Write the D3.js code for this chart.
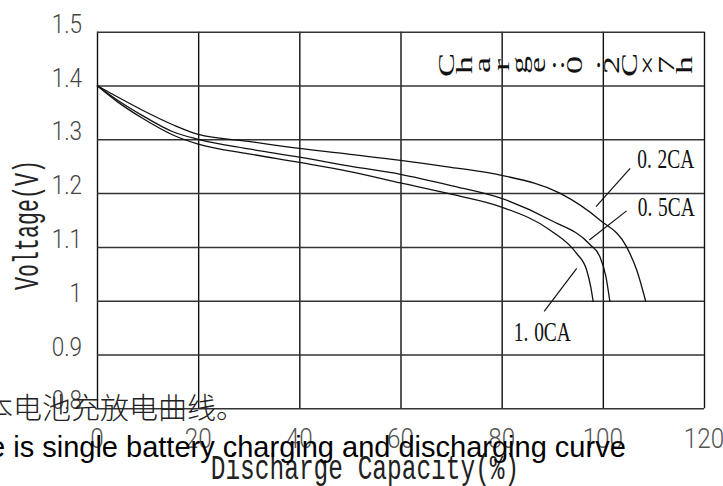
<!DOCTYPE html>
<html><head><meta charset="utf-8">
<script src="https://cdn.jsdelivr.net/npm/d3@7"></script>
<style>body{margin:0;background:#fff;overflow:hidden}</style>
</head><body>
<svg id="c" width="723" height="486"></svg>
<script>
// ---- data ----
const capacity02 = [0, 4, 9, 15, 20, 30, 40, 50, 60, 70, 80, 91.5, 99.4, 104.7, 106.7, 108.5];
const voltage02  = [1.400, 1.379, 1.354, 1.327, 1.309, 1.296, 1.283, 1.272, 1.261, 1.248, 1.233, 1.200, 1.150, 1.100, 1.057, 0.998];
const capacity05 = [0, 4, 9, 15, 20, 30, 40, 50, 60, 70, 80, 89.6, 97.5, 99.4, 100.6, 101.4];
const voltage05  = [1.400, 1.373, 1.344, 1.314, 1.300, 1.282, 1.267, 1.250, 1.235, 1.214, 1.190, 1.150, 1.104, 1.082, 1.045, 0.998];
const capacity10 = [0, 4, 9, 15, 20, 30, 40, 50, 60, 70, 80, 89.6, 94.8, 96.8, 97.6, 98.1];
const voltage10  = [1.400, 1.370, 1.339, 1.308, 1.291, 1.273, 1.257, 1.240, 1.219, 1.198, 1.174, 1.131, 1.088, 1.057, 1.026, 0.998];
const seriesNames = ["0.2CA", "0.5CA", "1.0CA"];
const xTicks = [0, 20, 40, 60, 80, 100, 120];
const xTickLabels = ["0", "20", "40", "60", "80", "100", "120"];
const yTicks = [0.8, 0.9, 1.0, 1.1, 1.2, 1.3, 1.4, 1.5];
const yTickLabels = ["0.8", "0.9", "1", "1.1", "1.2", "1.3", "1.4", "1.5"];
// leader lines: from point on curve to label end; label anchor
const leaderFrom = [[98.65, 1.175], [97.33, 1.113], [94.84, 1.060]];
const leaderTo   = [[105.4, 1.246], [104.7, 1.167], [88.4, 0.980]];
const labelAt    = [[106.8, 1.247], [106.9, 1.157], [82.4, 0.925]];
const conditionText = "Charge:0.2C×7h";
const xTitle = "Discharge Capacity(%)";
const yTitle = "Voltage(V)";
const noteCN = "本电池充放电曲线。";
const noteEN = "e is single battery charging and discharging curve";

// ---- layout ----
const svg = d3.select("#c");
const L = 97, R = 704, T = 31.7, B = 408.3;
const x = d3.scaleLinear().domain([0, 120]).range([L, R]);
const y = d3.scaleLinear().domain([0.8, 1.5]).range([B, T]);

svg.append("rect").attr("width", 723).attr("height", 486).attr("fill", "#fff");

// grid via axes
const gx = svg.append("g").attr("transform", `translate(0,${B})`)
  .call(d3.axisBottom(x).tickValues(xTicks).tickSize(-(B - T)).tickFormat(""));
gx.select(".domain").remove();
gx.selectAll("line").attr("stroke", "#111").attr("stroke-width", 1.4);
const gy = svg.append("g").attr("transform", `translate(${L},0)`)
  .call(d3.axisLeft(y).tickValues(yTicks).tickSize(-(R - L)).tickFormat(""));
gy.select(".domain").remove();
gy.selectAll("line").attr("stroke", "#333").attr("stroke-width", 1.5);

// y tick labels
svg.append("g").selectAll("text").data(yTicks).join("text")
  .attr("transform", d => `translate(82,${y(d) + 1}) scale(0.9,1)`)
  .attr("text-anchor", "end")
  .attr("font-family", "Roboto").attr("font-size", 25)
  .attr("font-weight", 300)
  .attr("fill", "#444")
  .text((d, i) => yTickLabels[i]);

// x tick labels
svg.append("g").selectAll("text").data(xTicks).join("text")
  .attr("transform", d => `translate(${x(d)},448) scale(0.9,1)`)
  .attr("text-anchor", "middle")
  .attr("font-family", "Roboto").attr("font-size", 27)
  .attr("font-weight", 300)
  .attr("fill", "#555")
  .text((d, i) => xTickLabels[i]);

// curves
const series = [
  capacity02.map((c, i) => [c, voltage02[i]]),
  capacity05.map((c, i) => [c, voltage05[i]]),
  capacity10.map((c, i) => [c, voltage10[i]])
];
const line = d3.line().x(d => x(d[0])).y(d => y(d[1])).curve(d3.curveMonotoneX);
svg.append("g").selectAll("path").data(series).join("path")
  .attr("d", line).attr("fill", "none").attr("stroke", "#111").attr("stroke-width", 1.3);

// leader lines
svg.append("g").selectAll("line").data(leaderFrom).join("line")
  .attr("x1", d => x(d[0])).attr("y1", d => y(d[1]))
  .attr("x2", (d, i) => x(leaderTo[i][0])).attr("y2", (d, i) => y(leaderTo[i][1]))
  .attr("stroke", "#111").attr("stroke-width", 1.2);

// series labels
svg.append("g").selectAll("text").data(seriesNames).join("text")
  .attr("transform", (d, i) => `translate(${x(labelAt[i][0])},${y(labelAt[i][1])}) scale(0.72,1)`)
  .attr("font-family", "Liberation Serif").attr("font-size", 27)
  .attr("fill", "#111")
  .each(function (d) {
    const t = d3.select(this);
    const p = d.split(".");
    t.append("tspan").text(p[0] + ".");
    t.append("tspan").attr("dx", 8).text(p[1]);
  });

// condition text (rotated glyphs)
const chars = Array.from(conditionText);
const cx = d3.scaleLinear().domain([0, chars.length - 1]).range([446, 684]);
svg.append("g").selectAll("text").data(chars).join("text")
  .attr("transform", (d, i) => `translate(${cx(i)},65) rotate(-90) scale(1,0.62)`)
  .attr("text-anchor", "middle").attr("dy", "0.35em")
  .attr("font-family", "Liberation Serif").attr("font-size", 36)
  .attr("fill", "#111")
  .text(d => d);

// y title
svg.append("text")
  .attr("transform", "translate(38,225) rotate(-90) scale(0.62,1)")
  .attr("text-anchor", "middle")
  .attr("font-family", "Liberation Mono").attr("font-size", 35)
  .attr("fill", "#222")
  .text(yTitle);

// x title
svg.append("text")
  .attr("transform", "translate(365,479) scale(0.7,1)")
  .attr("text-anchor", "middle")
  .attr("font-family", "Liberation Mono").attr("font-size", 35)
  .attr("fill", "#222")
  .text(xTitle);

// overlay notes
svg.append("text")
  .attr("x", -16).attr("y", 419)
  .attr("font-family", "Noto Sans CJK SC").attr("font-size", 29).attr("font-weight", 300)
  .attr("fill", "#222")
  .text(noteCN);
svg.append("text")
  .attr("x", -11).attr("y", 457)
  .attr("font-family", "Liberation Sans").attr("font-size", 29)
  .attr("fill", "#000")
  .text(noteEN);
</script>
</body></html>
